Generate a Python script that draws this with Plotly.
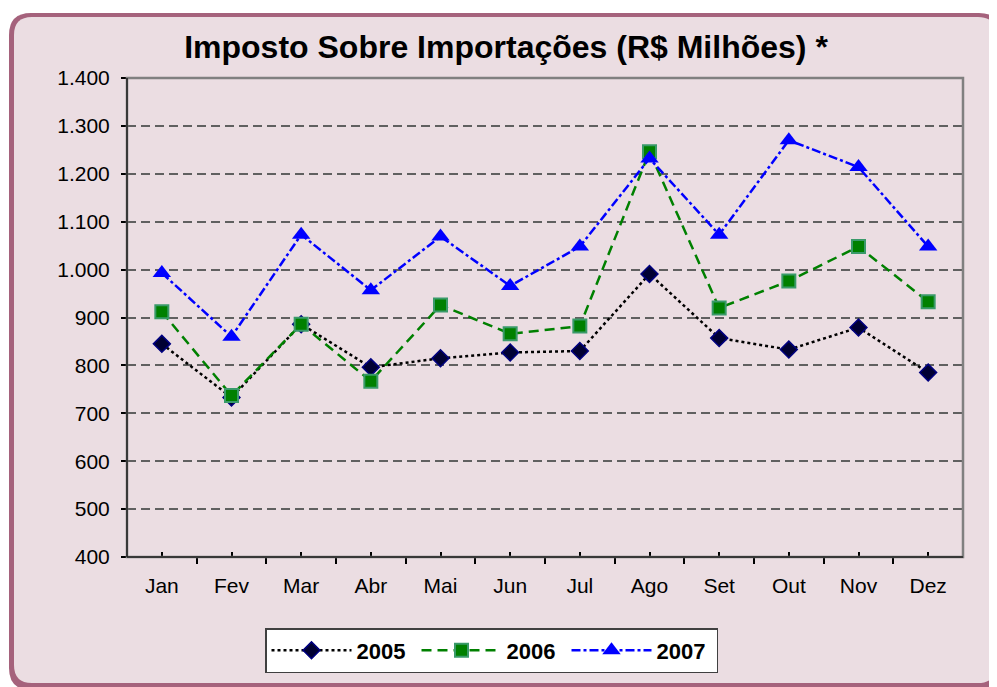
import plotly.graph_objects as go

months = ["Jan", "Fev", "Mar", "Abr", "Mai", "Jun", "Jul", "Ago", "Set", "Out", "Nov", "Dez"]
v2005 = [845, 733, 886, 796, 815, 827, 830, 991, 857, 833, 879, 785]
v2006 = [912, 737, 886, 767, 926, 866, 882, 1246, 920, 976, 1048, 933]
v2007 = [993, 860, 1073, 957, 1069, 966, 1048, 1232, 1073, 1270, 1214, 1048]
yticks = [400, 500, 600, 700, 800, 900, 1000, 1100, 1200, 1300, 1400]

# page body has an 8px margin; work in page pixels and convert
O = 8
W, H = 997 - O, 687 - O
L, R, T, B = 127 - O, 963 - O, 78 - O, 557 - O
FONT = "Liberation Sans, Arial, sans-serif"

def px(x):
    return (x - O - L) / (R - L)

def py(y):
    return (B - (y - O)) / (B - T)

def rrect(x0, y0, x1, y1, r):
    pts = [
        ("M", [(x0 + r, y0)]),
        ("L", [(x1 - r, y0)]),
        ("Q", [(x1, y0), (x1, y0 + r)]),
        ("L", [(x1, y1 - r)]),
        ("Q", [(x1, y1), (x1 - r, y1)]),
        ("L", [(x0 + r, y1)]),
        ("Q", [(x0, y1), (x0, y1 - r)]),
        ("L", [(x0, y0 + r)]),
        ("Q", [(x0, y0), (x0 + r, y0)]),
    ]
    s = ""
    for cmd, ps in pts:
        s += cmd + " ".join(f"{px(a):.5f},{py(b):.5f}" for a, b in ps) + " "
    return s + "Z"

x = list(range(len(months)))

fig = go.Figure()
fig.add_trace(go.Scatter(
    x=x, y=v2005, name="2005", mode="lines+markers",
    line=dict(color="black", width=2.5, dash="dot"),
    marker=dict(symbol="diamond", size=13, color="#000033", line=dict(color="#000080", width=1.5)),
))
fig.add_trace(go.Scatter(
    x=x, y=v2006, name="2006", mode="lines+markers",
    line=dict(color="#008000", width=2.5, dash="10px,6px"),
    marker=dict(symbol="square", size=13, color="#008000", line=dict(color="#3A9A6A", width=2)),
))
fig.add_trace(go.Scatter(
    x=x, y=v2007, name="2007", mode="lines+markers",
    line=dict(color="#0000FF", width=2.5, dash="dashdot"),
    marker=dict(symbol="triangle-up", size=16, color="#0000FF", line=dict(color="#0000FF", width=0)),
))

shapes = [
    dict(type="path", xref="paper", yref="paper", layer="below",
         path=rrect(9, 13, 1001, 690, 22), fillcolor="#A5627C", line=dict(width=0)),
    dict(type="path", xref="paper", yref="paper", layer="below",
         path=rrect(14, 17, 996, 683, 18), fillcolor="#EBDDE2", line=dict(width=0)),
    dict(type="rect", xref="paper", yref="paper", layer="above",
         x0=0, x1=1, y0=0, y1=1, line=dict(color="#808080", width=2.5), fillcolor="rgba(0,0,0,0)"),
    dict(type="line", xref="paper", yref="paper", layer="above",
         x0=0, x1=0, y0=0, y1=1, line=dict(color="#202020", width=1.5)),
    dict(type="line", xref="paper", yref="paper", layer="above",
         x0=0, x1=1, y0=0, y1=0, line=dict(color="#202020", width=1.5)),
]

fig.update_layout(
    width=W, height=H,
    margin=dict(l=L, r=W - R, t=T, b=H - B, pad=0),
    paper_bgcolor="white", plot_bgcolor="white",
    separators=",.",
    font=dict(family=FONT, size=21, color="black"),
    title=dict(text="<b>Imposto Sobre Importações (R$ Milhões) *</b>",
               x=(506 - O) / W, xanchor="center", xref="container",
               y=1 - (47 - O) / H, yanchor="middle", yref="container",
               font=dict(family=FONT, size=32, color="black")),
    showlegend=True,
    legend=dict(orientation="h", x=px(265), y=py(628), xanchor="left", yanchor="top",
                bgcolor="white", bordercolor="#404040", borderwidth=1.5,
                font=dict(family=FONT, size=22, color="black", weight="bold"),
                itemwidth=80, entrywidth=55, tracegroupgap=0),
    shapes=shapes,
)

fig.update_xaxes(
    range=[-0.5, 11.5], tickmode="array", tickvals=x, ticktext=months,
    ticks="inside", ticklen=5, tickcolor="black", tickwidth=1.5,
    showgrid=False, zeroline=False, showline=False,
    tickfont=dict(family=FONT, size=21), ticklabelstandoff=14,
    minor=dict(tickmode="array", tickvals=[i - 0.5 for i in range(13)],
               ticks="outside", ticklen=6, tickcolor="black", tickwidth=1.5, showgrid=False),
)
fig.update_yaxes(
    range=[400, 1400], tickmode="array", tickvals=yticks, tickformat=",d",
    ticks="outside", ticklen=5, tickcolor="black", tickwidth=1.5,
    showgrid=True, gridcolor="#606060", gridwidth=1.5, griddash="9px,5px",
    zeroline=False, showline=False,
    tickfont=dict(family=FONT, size=21), ticklabelstandoff=7,
)

fig.write_html("out.html")
